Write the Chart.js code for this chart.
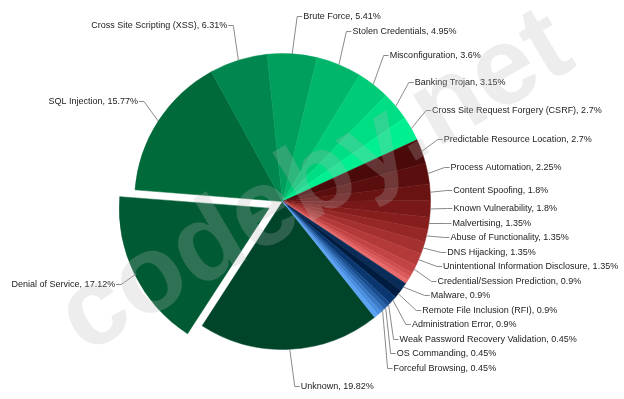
<!DOCTYPE html>
<html>
<head>
<meta charset="utf-8">
<style>
  html, body { margin: 0; padding: 0; background: #fff; }
  #chart { display: block; }
</style>
<script src="https://cdn.jsdelivr.net/npm/chart.js@4.4.1/dist/chart.umd.min.js"></script>
</head>
<body>
<canvas id="chart" width="624" height="399"></canvas>
<script>
// categories, clockwise from the big "Unknown" slice (empty names = slices without a label)
const categories = [
  'Unknown', 'Denial of Service', 'SQL Injection', 'Cross Site Scripting (XSS)',
  'Brute Force', 'Stolen Credentials', 'Misconfiguration', 'Banking Trojan',
  'Cross Site Request Forgery (CSRF)', 'Predictable Resource Location',
  'Process Automation', 'Content Spoofing', 'Known Vulnerability', 'Malvertising',
  'Abuse of Functionality', 'DNS Hijacking', 'Unintentional Information Disclosure',
  'Credential/Session Prediction', '', '', '',
  'Malware', 'Remote File Inclusion (RFI)', 'Administration Error',
  'Weak Password Recovery Validation', 'OS Commanding', 'Forceful Browsing', '', ''
];
const shares = [
  19.82, 17.12, 15.77, 6.31,
  5.41, 4.95, 3.6, 3.15,
  2.7, 2.7,
  2.25, 1.8, 1.8, 1.35,
  1.35, 1.35, 1.35,
  0.9, 0.45, 0.45, 0.45,
  0.9, 0.9, 0.9,
  0.45, 0.45, 0.45, 0.45, 0.45
];
const sliceColors = [
  '#00452a', '#005a33', '#006a3b', '#00874f',
  '#009f5d', '#00b66a', '#00cb77', '#00de84',
  '#00f091', '#4a0a0a',
  '#5a0e0e', '#691313', '#781818', '#871e1e',
  '#962727', '#a53030', '#b43a3a',
  '#c24444', '#cf4f4f', '#db5b5b', '#e86a6a',
  '#0a2c58', '#001c40', '#0b3770',
  '#184c8c', '#2862a9', '#3a7ac6', '#4b8fe0', '#5aa2f2'
];
const explodedSlice = 'Denial of Service';

const LABEL_RX = 165;   // label ellipse, horizontal
const LABEL_RY = 185;   // label ellipse, vertical
const LINE_GAP = 14.5;

// push overlapping labels apart, keeping each group centred on its ideal spot
function spread(list) {
  list.sort((a, b) => a.ideal - b.ideal);
  const groups = list.map(it => ({ items: [it], sum: it.ideal }));
  const top = g => g.sum / g.items.length - (g.items.length - 1) * LINE_GAP / 2;
  let merged = true;
  while (merged) {
    merged = false;
    for (let i = 1; i < groups.length; i++) {
      const a = groups[i - 1], b = groups[i];
      if (top(a) + a.items.length * LINE_GAP > top(b)) {
        a.items = a.items.concat(b.items);
        a.sum += b.sum;
        groups.splice(i, 1);
        merged = true;
        break;
      }
    }
  }
  groups.forEach(g => {
    const t = top(g);
    g.items.forEach((it, k) => { it.y = t + k * LINE_GAP; });
  });
}

const outsideLabels = {
  id: 'outsideLabels',
  afterDatasetsDraw(chart) {
    const ctx = chart.ctx;
    const meta = chart.getDatasetMeta(0);
    const values = chart.data.datasets[0].data;
    const items = [];
    meta.data.forEach((arc, i) => {
      const name = chart.data.labels[i];
      if (!name) return;
      const mid = (arc.startAngle + arc.endAngle) / 2;
      const shift = (arc.options.offset || 0) / 4;
      const sx = arc.x + Math.cos(mid) * shift;
      const sy = arc.y + Math.sin(mid) * shift;
      items.push({
        text: name + ', ' + values[i] + '%',
        right: Math.cos(mid) >= 0,
        cx: sx,
        cy: arc.y,
        rimX: sx + Math.cos(mid) * arc.outerRadius,
        rimY: sy + Math.sin(mid) * arc.outerRadius,
        ideal: arc.y + Math.sin(mid) * LABEL_RY
      });
    });
    spread(items.filter(it => it.right));
    spread(items.filter(it => !it.right));

    ctx.save();
    ctx.font = '9px "Liberation Sans", Arial, sans-serif';
    ctx.textBaseline = 'middle';
    ctx.strokeStyle = '#8a8a8a';
    ctx.lineWidth = 1;
    ctx.fillStyle = '#222';
    items.forEach(it => {
      const dy = (it.y - it.cy) / LABEL_RY;
      const dx = LABEL_RX * Math.sqrt(Math.max(0, 1 - dy * dy));
      const dir = it.right ? 1 : -1;
      let ex = it.cx + dir * dx;
      ex = it.right ? Math.max(ex, it.rimX + 5) : Math.min(ex, it.rimX - 5);
      const y = Math.round(it.y) + 0.5;
      ctx.beginPath();
      ctx.moveTo(it.rimX, it.rimY);
      ctx.lineTo(ex, y);
      ctx.lineTo(ex + dir * 5, y);
      ctx.stroke();
      ctx.textAlign = it.right ? 'left' : 'right';
      ctx.fillText(it.text, ex + dir * 6, y);
    });
    ctx.restore();
  },
  afterDraw(chart) {
    // watermark
    const ctx = chart.ctx;
    ctx.save();
    ctx.translate(316, 184);
    ctx.rotate(-30.4 * Math.PI / 180);
    ctx.font = 'bold 110px "Liberation Sans", Arial, sans-serif';
    ctx.fillStyle = 'rgba(185,185,185,0.25)';
    ctx.textAlign = 'center';
    ctx.textBaseline = 'middle';
    ctx.fillText('codeby.net', 0, 0);
    ctx.restore();
  }
};

new Chart(document.getElementById('chart'), {
  type: 'pie',
  data: {
    labels: categories,
    datasets: [{
      data: shares,
      backgroundColor: sliceColors,
      borderColor: sliceColors,
      borderWidth: 0.5,
      offset: categories.map(c => c === explodedSlice ? 60 : 0)
    }]
  },
  options: {
    responsive: false,
    animation: false,
    devicePixelRatio: 1,
    rotation: 141.5,
    radius: 148,
    layout: { padding: { left: 0, right: 59, top: 4, bottom: 0 } },
    plugins: {
      legend: { display: false },
      tooltip: { enabled: false }
    }
  },
  plugins: [outsideLabels]
});
</script>
</body>
</html>
